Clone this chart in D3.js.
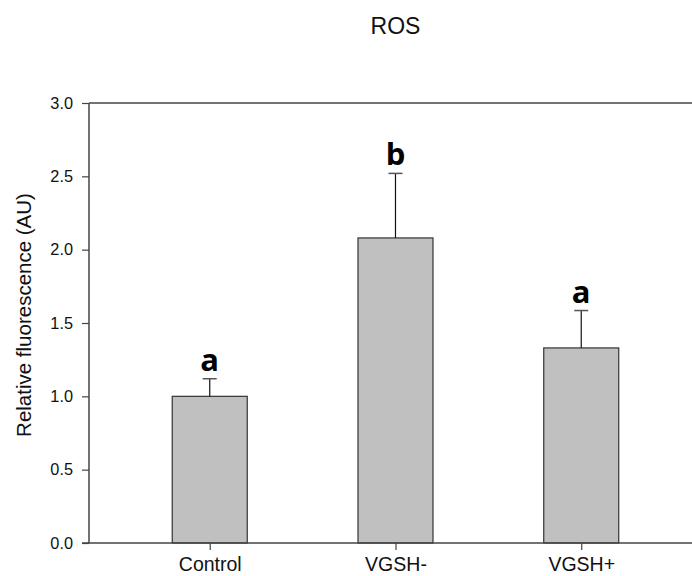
<!DOCTYPE html>
<html>
<head>
<meta charset="utf-8">
<script src="https://cdn.jsdelivr.net/npm/d3@7"></script>
<style>
  body { margin: 0; background: #fff; }
  svg { display: block; }
</style>
</head>
<body>
<svg id="chart" width="692" height="576"></svg>
<script>
// chart values
const groups = ['Control', 'VGSH-', 'VGSH+'];
const means = [1.0, 2.08, 1.33];
const errors = [0.12, 0.44, 0.255];
const letters = ['a', 'b', 'a'];
const yTicks = [0, 0.5, 1.0, 1.5, 2.0, 2.5, 3.0];

const svg = d3.select('#chart');
const margin = { top: 103, left: 89, bottom: 543 };
const axisColor = '#444';
const font = 'Liberation Sans, Arial, sans-serif';

// positions 1..3 along x, plot frame runs off the right edge
const x = d3.scaleLinear()
    .domain([0.35, 3.6])
    .range([margin.left, margin.left + 3.25 * 185.75]);

const y = d3.scaleLinear()
    .domain([0, 3])
    .range([margin.bottom, margin.top]);

const barWidth = 75;

// title
svg.append('text')
    .attr('x', 395.5)
    .attr('y', 34)
    .attr('text-anchor', 'middle')
    .style('font-family', font)
    .style('font-size', '23px')
    .attr('fill', '#111')
    .text('ROS');

// bars
svg.selectAll('.bar')
    .data(means)
    .enter()
    .append('rect')
    .attr('class', 'bar')
    .attr('x', (d, i) => x(i + 1) - barWidth / 2)
    .attr('y', d => y(d))
    .attr('width', barWidth)
    .attr('height', d => y(0) - y(d))
    .attr('fill', '#c0c0c0')
    .attr('stroke', '#333')
    .attr('stroke-width', 1.2);

// error bars (upper only)
const err = svg.selectAll('.err')
    .data(means)
    .enter()
    .append('g')
    .attr('class', 'err');

err.append('line')
    .attr('x1', (d, i) => x(i + 1))
    .attr('x2', (d, i) => x(i + 1))
    .attr('y1', d => y(d))
    .attr('y2', (d, i) => y(d + errors[i]))
    .attr('stroke', '#111')
    .attr('stroke-width', 1.2);

err.append('line')
    .attr('x1', (d, i) => x(i + 1) - 7)
    .attr('x2', (d, i) => x(i + 1) + 7)
    .attr('y1', (d, i) => y(d + errors[i]))
    .attr('y2', (d, i) => y(d + errors[i]))
    .attr('stroke', '#555')
    .attr('stroke-width', 1.5);

// significance letters
svg.selectAll('.letter')
    .data(letters)
    .enter()
    .append('text')
    .attr('class', 'letter')
    .attr('x', (d, i) => x(i + 1))
    .attr('y', (d, i) => y(means[i] + errors[i]) - 8)
    .attr('text-anchor', 'middle')
    .style('font-family', 'Open Sans, sans-serif')
    .style('font-weight', 'bold')
    .style('font-size', '31px')
    .text(d => d);

// y axis
const yAxis = svg.append('g')
    .attr('transform', `translate(${margin.left},0)`)
    .call(d3.axisLeft(y)
        .tickValues(yTicks)
        .tickSize(7)
        .tickPadding(9)
        .tickFormat(d3.format('.1f')));

yAxis.select('.domain').remove();
yAxis.append('line')
    .attr('y1', margin.top)
    .attr('y2', margin.bottom)
    .attr('stroke', axisColor)
    .attr('stroke-width', 1.5);

// x axis
const xAxis = svg.append('g')
    .attr('transform', `translate(0,${margin.bottom})`)
    .call(d3.axisBottom(x)
        .tickValues([1, 2, 3])
        .tickSize(7)
        .tickPadding(7)
        .tickFormat((d, i) => groups[i]));

xAxis.select('.domain').remove();
xAxis.append('line')
    .attr('x1', margin.left - 7)
    .attr('x2', 692)
    .attr('stroke', axisColor)
    .attr('stroke-width', 1.5);

// top frame line
svg.append('line')
    .attr('x1', margin.left)
    .attr('x2', 692)
    .attr('y1', margin.top)
    .attr('y2', margin.top)
    .attr('stroke', axisColor)
    .attr('stroke-width', 1.5);

svg.selectAll('.tick line')
    .attr('stroke', axisColor)
    .attr('stroke-width', 1.2);

yAxis.selectAll('.tick text')
    .style('font-family', font)
    .style('font-size', '16.3px')
    .attr('fill', '#111');

xAxis.selectAll('.tick text')
    .style('font-family', font)
    .style('font-size', '19.5px')
    .attr('fill', '#111');

// y axis title
svg.append('text')
    .attr('transform', `translate(31,315) rotate(-90)`)
    .attr('text-anchor', 'middle')
    .style('font-family', font)
    .style('font-size', '20.5px')
    .attr('fill', '#111')
    .text('Relative fluorescence (AU)');
</script>
</body>
</html>
